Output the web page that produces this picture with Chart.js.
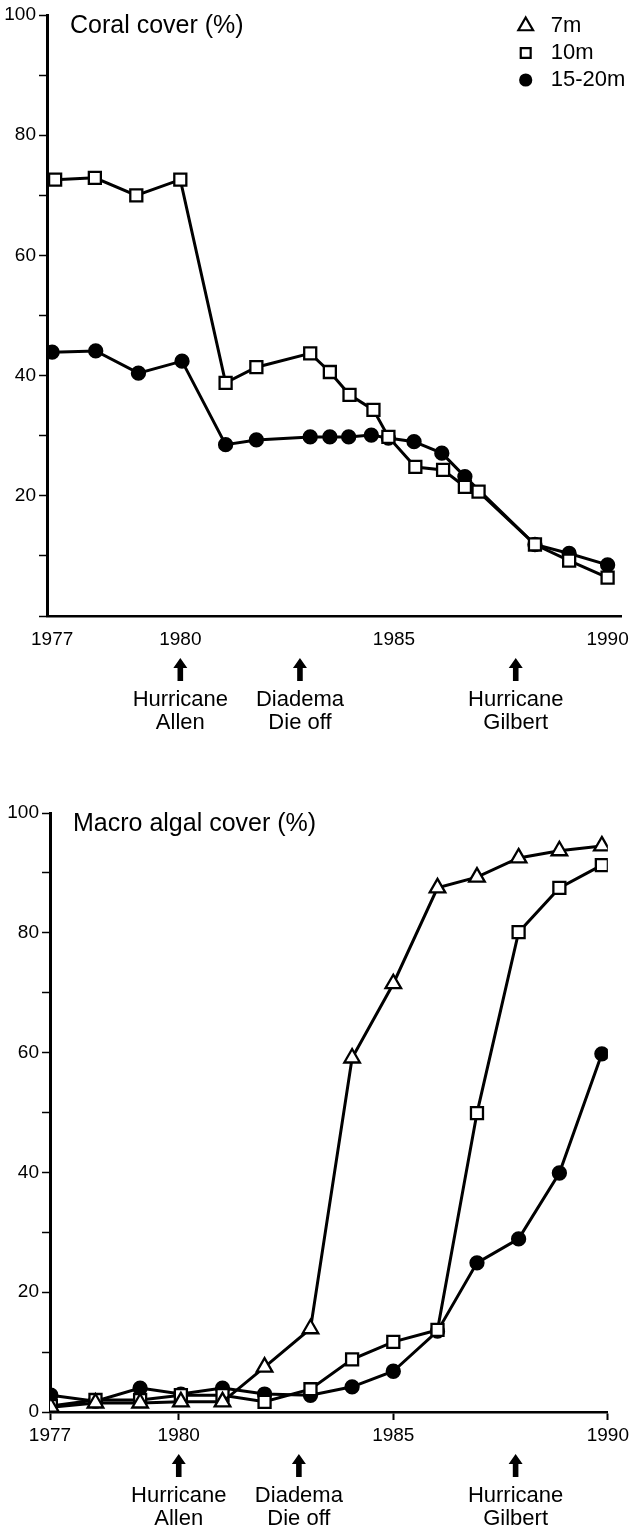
<!DOCTYPE html>
<html>
<head>
<meta charset="utf-8">
<script src="https://cdn.jsdelivr.net/npm/chart.js@4.4.0/dist/chart.umd.min.js"></script>
<style>
  html, body { margin: 0; padding: 0; background: #fff; }
  body { width: 633px; height: 1532px; position: relative; overflow: hidden; }
  .panel { position: absolute; left: 0; width: 633px; }
  #top { top: 0; height: 760px; }
  #bottom { top: 760px; height: 772px; }
</style>
</head>
<body>
<div class="panel" id="top"><canvas id="coral" width="633" height="760"></canvas></div>
<div class="panel" id="bottom"><canvas id="algae" width="633" height="772"></canvas></div>
<script>
// séries (profondeurs)
const seriesLabels = ['7m', '10m', '15-20m'];

// Coral cover (%) - années de relevé
const coral10mYears = [1977.07, 1978.0, 1978.97, 1980.0, 1981.06, 1981.78, 1983.04, 1983.5, 1983.96, 1984.52, 1984.87, 1985.5, 1986.15, 1986.66, 1986.98, 1988.3, 1989.1, 1990.0];
const coral10m = [72.6, 72.9, 70.0, 72.6, 38.8, 41.4, 43.7, 40.6, 36.8, 34.3, 29.8, 24.8, 24.3, 21.5, 20.7, 11.9, 9.2, 6.4];
const coral15Years = [1977.0, 1978.02, 1979.02, 1980.04, 1981.06, 1981.78, 1983.04, 1983.5, 1983.94, 1984.47, 1984.87, 1985.47, 1986.12, 1986.66, 1988.3, 1989.1, 1990.0];
const coral15 = [43.9, 44.1, 40.4, 42.4, 28.5, 29.3, 29.8, 29.8, 29.8, 30.1, 29.6, 29.0, 27.1, 23.2, 11.9, 10.4, 8.5];

// Macro algal cover (%)
const algaeYears = [1977.02, 1978.06, 1979.1, 1980.05, 1981.02, 1982.0, 1983.07, 1984.04, 1985.0, 1986.03, 1986.95, 1987.92, 1988.87, 1989.86];
const algae7m = [0.8, 1.5, 1.5, 1.7, 1.7, 7.5, 13.9, 59.1, 71.5, 87.5, 89.3, 92.5, 93.7, 94.5];
const algae10m = [1.0, 2.0, 2.0, 2.8, 2.8, 1.7, 3.8, 8.8, 11.7, 13.7, 49.9, 80.1, 87.5, 91.3];
const algae15 = [2.8, 1.8, 4.0, 3.0, 4.0, 3.0, 2.8, 4.2, 6.8, 13.5, 24.9, 28.9, 39.9, 59.8];

// axes et événements
const tickYears = [1977, 1980, 1985, 1990];
const eventYears = [1980, 1982.8, 1987.85];
const eventLabels = [['Hurricane', 'Allen'], ['Diadema', 'Die off'], ['Hurricane', 'Gilbert']];

const FONT = '"Liberation Sans", Arial, Helvetica, sans-serif';
Chart.defaults.font.family = FONT;
Chart.defaults.color = '#000';

function pts(xs, ys) {
  return xs.map((x, i) => ({ x: x, y: ys[i] }));
}

// style des marqueurs par série
function serie(i, data) {
  const styles = [
    { pointStyle: 'triangle', pointRadius: 9, pointBackgroundColor: '#fff' },
    { pointStyle: 'rect', pointRadius: 8.5, pointBackgroundColor: '#fff' },
    { pointStyle: 'circle', pointRadius: 6.5, pointBackgroundColor: '#000' }
  ];
  return Object.assign({
    label: seriesLabels[i],
    data: data,
    borderColor: '#000',
    borderWidth: 3,
    pointBorderColor: '#000',
    pointBorderWidth: 2.3,
    tension: 0,
    fill: false
  }, styles[i]);
}

// titre dans la zone du graphe
const panelTitle = {
  id: 'panelTitle',
  afterDraw(chart, args, opts) {
    const ctx = chart.ctx, a = chart.chartArea;
    ctx.save();
    ctx.fillStyle = '#000';
    ctx.font = '25px ' + FONT;
    ctx.textAlign = 'left';
    ctx.textBaseline = 'middle';
    ctx.fillText(opts.text, a.left + 23, a.top + 11);
    ctx.restore();
  }
};

// légende en haut à droite
const cornerLegend = {
  id: 'cornerLegend',
  afterDraw(chart, args, opts) {
    if (!opts.show) return;
    const ctx = chart.ctx, a = chart.chartArea;
    const sizes = { triangle: 8.5, rect: 7, circle: 5.5 };
    ctx.save();
    chart.data.datasets.forEach((ds, i) => {
      const x = a.right - 96, y = a.top + 11 + i * 27;
      ctx.fillStyle = ds.pointBackgroundColor;
      ctx.strokeStyle = '#000';
      ctx.lineWidth = 2.2;
      Chart.helpers.drawPoint(ctx, { pointStyle: ds.pointStyle, radius: sizes[ds.pointStyle], borderWidth: 2.2, rotation: 0 }, x, y);
      ctx.fillStyle = '#000';
      ctx.font = '22px ' + FONT;
      ctx.textAlign = 'left';
      ctx.textBaseline = 'middle';
      ctx.fillText(ds.label, x + 25, y);
    });
    ctx.restore();
  }
};

// flèches + légendes des événements sous l'axe
const eventsPlugin = {
  id: 'events',
  afterDraw(chart) {
    const ctx = chart.ctx, sx = chart.scales.x, base = chart.chartArea.bottom;
    ctx.save();
    ctx.fillStyle = '#000';
    ctx.textAlign = 'center';
    ctx.textBaseline = 'middle';
    ctx.font = '22px ' + FONT;
    eventYears.forEach((yr, i) => {
      const px = sx.getPixelForValue(yr);
      ctx.beginPath();
      ctx.moveTo(px, base + 42);
      ctx.lineTo(px + 7, base + 52);
      ctx.lineTo(px + 2.8, base + 52);
      ctx.lineTo(px + 2.8, base + 65);
      ctx.lineTo(px - 2.8, base + 65);
      ctx.lineTo(px - 2.8, base + 52);
      ctx.lineTo(px - 7, base + 52);
      ctx.closePath();
      ctx.fill();
      ctx.fillText(eventLabels[i][0], px, base + 84);
      ctx.fillText(eventLabels[i][1], px, base + 107);
    });
    ctx.restore();
  }
};

function makeChart(id, datasets, cfg) {
  return new Chart(document.getElementById(id), {
    type: 'line',
    data: { datasets: datasets },
    options: {
      responsive: false,
      animation: false,
      devicePixelRatio: 1,
      layout: { padding: cfg.padding },
      plugins: {
        legend: { display: false },
        tooltip: { enabled: false },
        panelTitle: { text: cfg.title },
        cornerLegend: { show: cfg.legend }
      },
      scales: {
        x: {
          type: 'linear',
          min: cfg.xMin,
          max: cfg.xMax,
          border: { color: '#000', width: 2.5 },
          grid: { drawOnChartArea: false, tickLength: 8, tickColor: cfg.xTickColor, tickWidth: 2 },
          ticks: { autoSkip: false, maxRotation: 0, padding: 4, font: { size: 19 }, callback: v => String(v) },
          afterBuildTicks(s) { s.ticks = tickYears.map(v => ({ value: v })); },
          afterFit(s) { s.height = cfg.xHeight; }
        },
        y: {
          min: 0,
          max: 100,
          border: { color: '#000', width: 3 },
          grid: { drawOnChartArea: false, tickLength: 8, tickColor: '#000', tickWidth: 1.5 },
          ticks: { stepSize: 10, padding: 3, font: { size: 19 }, callback: cfg.yLabel },
          afterFit(s) { s.width = cfg.yWidth; }
        }
      }
    },
    plugins: [panelTitle, cornerLegend, eventsPlugin]
  });
}

makeChart('coral', [
  serie(0, []),
  serie(1, pts(coral10mYears, coral10m)),
  serie(2, pts(coral15Years, coral15))
], {
  title: 'Coral cover (%)',
  legend: true,
  padding: { top: 15, right: 7, left: 0, bottom: 0 },
  xMin: 1976.88, xMax: 1990.33,
  xHeight: 144, yWidth: 47,
  xTickColor: 'rgba(0,0,0,0)',
  yLabel: v => (v > 0 && v % 20 === 0) ? String(v) : ''
});

makeChart('algae', [
  serie(0, pts(algaeYears, algae7m)),
  serie(1, pts(algaeYears, algae10m)),
  serie(2, pts(algaeYears, algae15))
], {
  title: 'Macro algal cover (%)',
  legend: false,
  padding: { top: 53, right: 18, left: 0, bottom: 0 },
  xMin: 1977, xMax: 1990,
  xHeight: 120, yWidth: 50,
  xTickColor: '#000',
  yLabel: v => (v % 20 === 0) ? String(v) : ''
});
</script>
</body>
</html>
